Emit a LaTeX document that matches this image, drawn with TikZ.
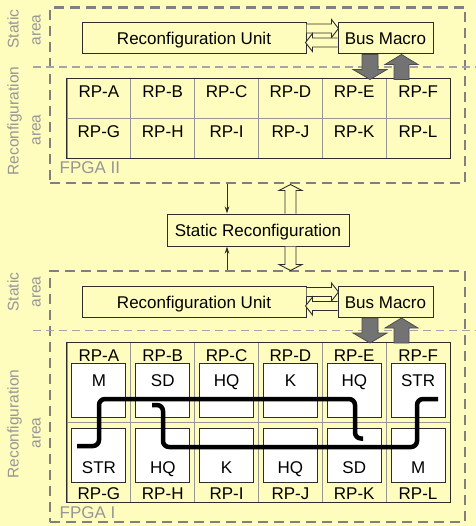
\documentclass[tikz,border=0pt]{standalone}
\usepackage{fontspec}
\setmainfont{Liberation Sans}
\usetikzlibrary{arrows.meta}
\definecolor{bgyellow}{RGB}{255,253,190}
\definecolor{dashgray}{RGB}{128,128,128}
\definecolor{divgray}{RGB}{165,165,165}
\definecolor{sidegray}{RGB}{150,150,150}
\definecolor{edgedark}{RGB}{45,45,45}
\definecolor{cellgray}{RGB}{150,150,150}
\definecolor{blockfill}{RGB}{115,115,115}
\newcommand\mainfs{\fontsize{17bp}{20bp}\selectfont}
\newcommand\sidefs{\fontsize{15.5bp}{18bp}\selectfont}
\tikzset{
  fpgabox/.style={draw=dashgray, line width=2.5bp, dash pattern=on 10bp off 6bp, inner sep=0pt},
  divider/.style={draw=divgray, line width=1.5bp, dash pattern=on 8bp off 5bp},
  box/.style={draw=edgedark, line width=1bp, fill=bgyellow, text height=12bp, text depth=0bp, inner sep=0pt, font=\mainfs},
  side/.style={text=sidegray, rotate=90, anchor=base, inner sep=0pt, font=\sidefs},
  cell/.style={draw=cellgray, line width=1bp, inner sep=0pt, minimum width=63.833bp},
  gridframe/.style={draw=edgedark, line width=1bp, inner sep=0pt},
  lbl/.style={anchor=base, inner sep=0pt, font=\mainfs},
  innerbox/.style={draw=edgedark, fill=white, line width=1bp, minimum width=54bp, minimum height=54bp, inner sep=0pt},
  route/.style={draw=black, line width=4.5bp, rounded corners=6bp},
  hollow/.style={draw=edgedark, line width=0.9bp, fill=bgyellow, line join=miter},
  block/.style={draw=black!70, fill=blockfill, line width=0.8bp},
  ctrlarrow/.style={draw=edgedark, line width=0.9bp, -{Stealth[length=7bp,width=4.5bp]}},
  fpgalbl/.style={text=sidegray, anchor=base west, inner sep=0pt, font=\mainfs}
}
\begin{document}
\begin{tikzpicture}[x=1bp,y=-1bp]
\useasboundingbox (0,0) rectangle (476,526);
\fill[bgyellow] (0,0) rectangle (476,526);

% FPGA boxes
\node[fpgabox, minimum width=415bp, minimum height=175.5bp] (fpgaII) at (257.5,95.25) {};
\node[fpgabox, minimum width=415bp, minimum height=251bp] (fpgaI) at (257.5,396.5) {};

% dividers
\draw[divider] (33,67) -- (476,67);
\draw[divider] (33,330.5) -- (476,330.5);

% side labels
\node[side] (s1) at (18.5,29) {Static};
\node[side] (s2) at (40.5,30) {area};
\node[side] (s3) at (18.5,121) {Reconfiguration};
\node[side] (s4) at (40.5,130) {area};
\node[side] (s5) at (18.5,292) {Static};
\node[side] (s6) at (40.5,292) {area};
\node[side] (s7) at (18.5,424) {Reconfiguration};
\node[side] (s8) at (40.5,433) {area};

% ===== FPGA II =====
\node[box, minimum width=224bp, minimum height=31bp] (ruII) at (194,38.5) {Reconfiguration Unit};
\node[box, minimum width=95bp, minimum height=31bp] (bmII) at (385.5,38.5) {Bus Macro};
\path (ruII.east) ++(0,-10) coordinate (haII);
\draw[hollow] (haII) ++(0,-4.5) -- ++(25,0) -- ++(0,-4.5) -- ++(7,9) -- ++(-7,9) -- ++(0,-4.5) -- ++(-25,0);
\path (bmII.west) ++(0,4) coordinate (hbII);
\draw[hollow] (hbII) ++(0,-4.5) -- ++(-25,0) -- ++(0,-4.5) -- ++(-7,9) -- ++(7,9) -- ++(0,-4.5) -- ++(25,0);

\foreach \a/\b [count=\i from 0] in {A/G,B/H,C/I,D/J,E/K,F/L}{
  \pgfmathsetmacro\cx{98.917+63.833*\i}
  \node[cell, minimum height=40bp] (t\a) at (\cx,99) {};
  \node[cell, minimum height=40bp] (t\b) at (\cx,139) {};
  \node[lbl] (tl\a) at (\cx,98) {RP-\a};
  \node[lbl] (tl\b) at (\cx,138) {RP-\b};
}
\node[gridframe, minimum width=383bp, minimum height=80bp] (tgrid) at (258.5,119) {};

\begin{scope}[shift={(bmII.south)}]
\draw[block] (-23.5,0) -- (-23.5,15) -- (-32.5,15) -- (-15.5,25) -- (1.5,15) -- (-7.5,15) -- (-7.5,0) -- cycle;
\draw[block] (8.5,25) -- (8.5,10) -- (-0.5,10) -- (16,0) -- (32.5,10) -- (23.5,10) -- (23.5,25) -- cycle;
\end{scope}
\node[fpgalbl] (lII) at (59.5,174) {FPGA II};

% ===== Static Reconfiguration =====
\node[box, minimum width=182bp, minimum height=32bp] (sr) at (258,230) {Static Reconfiguration};
\draw[ctrlarrow] (227,0 |- fpgaII.south) -- (227,0 |- sr.north);
\draw[ctrlarrow] (227,0 |- fpgaI.north) -- (227,0 |- sr.south);
\path (sr.north) ++(32.5,0) coordinate (vu);
\draw[hollow] (vu) ++(-5.5,0) -- ++(0,-23) -- ++(-6,0) -- ++(11.5,-6) -- ++(11.5,6) -- ++(-6,0) -- ++(0,23);
\path (sr.south) ++(32.5,0) coordinate (vd);
\draw[hollow] (vd) ++(-5.5,0) -- ++(0,18) -- ++(-6,0) -- ++(11.5,6) -- ++(11.5,-6) -- ++(-6,0) -- ++(0,-18);

% ===== FPGA I =====
\node[box, minimum width=224bp, minimum height=31bp] (ruI) at (194,302) {Reconfiguration Unit};
\node[box, minimum width=95bp, minimum height=31bp] (bmI) at (385.5,302) {Bus Macro};
\path (ruI.east) ++(0,-10) coordinate (haI);
\draw[hollow] (haI) ++(0,-4.5) -- ++(25,0) -- ++(0,-4.5) -- ++(7,9) -- ++(-7,9) -- ++(0,-4.5) -- ++(-25,0);
\path (bmI.west) ++(0,4) coordinate (hbI);
\draw[hollow] (hbI) ++(0,-4.5) -- ++(-25,0) -- ++(0,-4.5) -- ++(-7,9) -- ++(7,9) -- ++(0,-4.5) -- ++(25,0);

\foreach \a/\b/\p/\q [count=\i from 0] in {A/G/M/STR,B/H/SD/HQ,C/I/HQ/K,D/J/K/HQ,E/K/HQ/SD,F/L/STR/M}{
  \pgfmathsetmacro\cx{98.917+63.833*\i}
  \node[cell, minimum height=80bp] (b\a) at (\cx,382) {};
  \node[cell, minimum height=80bp] (b\b) at (\cx,462) {};
  \node[lbl] (bl\a) at (\cx,361.5) {RP-\a};
  \node[lbl] (bl\b) at (\cx,499.5) {RP-\b};
  \node[innerbox] (bi\a) at (\cx,390) {};
  \node[innerbox] (bi\b) at (\cx,455) {};
  \node[lbl] (bt\a) at (\cx,386) {\p};
  \node[lbl] (bt\b) at (\cx,473) {\q};
}
\node[gridframe, minimum width=383bp, minimum height=160bp] (bgrid) at (258.5,422) {};

\draw[route] (77,446) -- (99,446) -- (99,399) -- (355,399) -- (355,438.5) -- (363,438.5);
\draw[route] (152,405) -- (163,405) -- (163,447) -- (417,447) -- (417,399) -- (438,399);

\begin{scope}[shift={(bmI.south)}]
\draw[block] (-23.5,0) -- (-23.5,15) -- (-32.5,15) -- (-15.5,25) -- (1.5,15) -- (-7.5,15) -- (-7.5,0) -- cycle;
\draw[block] (8.5,25) -- (8.5,10) -- (-0.5,10) -- (16,0) -- (32.5,10) -- (23.5,10) -- (23.5,25) -- cycle;
\end{scope}
\node[fpgalbl] (lI) at (59.5,518) {FPGA I};
\end{tikzpicture}
\end{document}
